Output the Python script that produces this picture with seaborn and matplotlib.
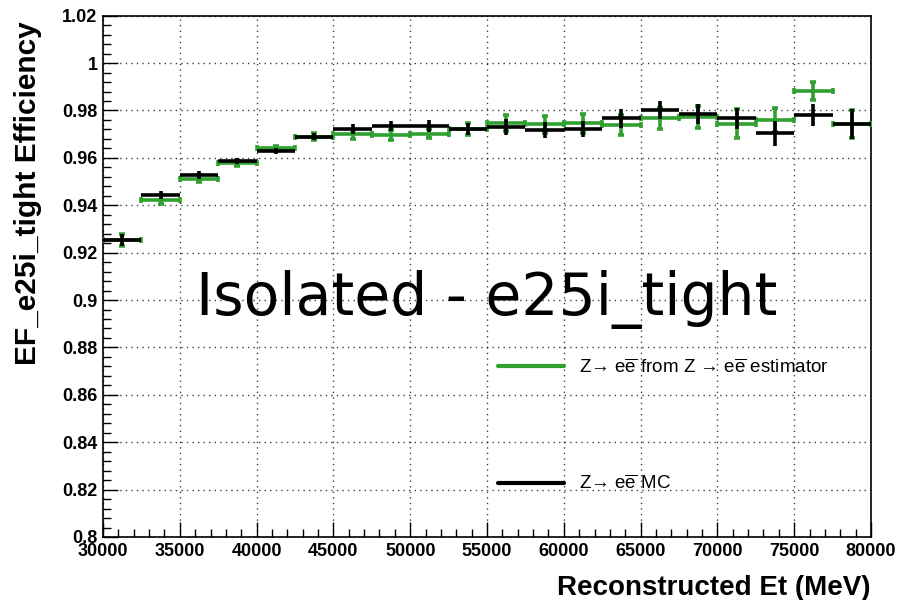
import numpy as np
import pandas as pd
import matplotlib
matplotlib.use("Agg")
import matplotlib.pyplot as plt
from matplotlib.ticker import MultipleLocator
import seaborn as sns

# bin centres (MeV), 2.5 GeV wide bins
et = [31250, 33750, 36250, 38750, 41250, 43750, 46250, 48750, 51250, 53750,
      56250, 58750, 61250, 63750, 66250, 68750, 71250, 73750, 76250, 78750]
half_width = 1250

eff_est = [0.9255, 0.9424, 0.9513, 0.9577, 0.9640, 0.9690, 0.9699, 0.9697, 0.9702, 0.9721,
           0.9748, 0.9742, 0.9746, 0.9738, 0.9767, 0.9773, 0.9745, 0.9759, 0.9883, 0.9743]
err_est = [0.0025, 0.0020, 0.0015, 0.0012, 0.0012, 0.0015, 0.0020, 0.0020, 0.0020, 0.0025,
           0.0035, 0.0035, 0.0040, 0.0042, 0.0045, 0.0045, 0.0062, 0.0050, 0.0037, 0.0060]

eff_mc = [0.9252, 0.9442, 0.9528, 0.9587, 0.9630, 0.9689, 0.9721, 0.9734, 0.9734, 0.9721,
          0.9730, 0.9718, 0.9722, 0.9767, 0.9802, 0.9785, 0.9767, 0.9703, 0.9780, 0.9743]
err_mc = [0.0025, 0.0017, 0.0015, 0.0013, 0.0013, 0.0015, 0.0020, 0.0022, 0.0025, 0.0025,
          0.0034, 0.0035, 0.0035, 0.0040, 0.0038, 0.0042, 0.0045, 0.0053, 0.0046, 0.0063]

label_est = "Z\u2192 e$\\overline{\\mathrm{e}}$ from Z \u2192 e$\\overline{\\mathrm{e}}$ estimator"
label_mc = "Z\u2192 e$\\overline{\\mathrm{e}}$ MC"

df = pd.DataFrame({"et": et, "est": eff_est, "est_err": err_est,
                   "mc": eff_mc, "mc_err": err_mc})

sns.set_style("white")
plt.rcParams["font.family"] = ["Liberation Sans", "DejaVu Sans"]
plt.rcParams["mathtext.fontset"] = "custom"
plt.rcParams["mathtext.rm"] = "Liberation Sans"
plt.rcParams["mathtext.it"] = "Liberation Sans:italic"
for key in ["text.color", "axes.labelcolor", "xtick.color", "ytick.color", "axes.edgecolor"]:
    plt.rcParams[key] = "black"

green = "#30a030"

fig = plt.figure(figsize=(9.02, 6.0), dpi=100)
ax = fig.add_axes([0.1142, 0.105, 0.8514, 0.8688])

ax.errorbar(df["et"], df["est"], xerr=half_width, yerr=df["est_err"], fmt="none",
            ecolor=green, elinewidth=2.6, capsize=2.2, capthick=2.6, zorder=3)
ax.errorbar(df["et"], df["mc"], xerr=half_width, yerr=df["mc_err"], fmt="none",
            ecolor="black", elinewidth=2.6, capsize=0, zorder=4)

# legend handles
sns.lineplot(x=[np.nan, np.nan], y=[np.nan, np.nan], ax=ax, color=green, lw=3, label=label_est)
sns.lineplot(x=[np.nan, np.nan], y=[np.nan, np.nan], ax=ax, color="black", lw=3, label=label_mc)

ax.set_xlim(30000, 80000)
ax.set_ylim(0.8, 1.02)
ax.xaxis.set_major_locator(MultipleLocator(5000))
ax.xaxis.set_minor_locator(MultipleLocator(1000))
ax.yaxis.set_minor_locator(MultipleLocator(0.004))
ax.set_yticks(np.arange(0.8, 1.0201, 0.02))
ax.set_yticklabels(["0.8", "0.82", "0.84", "0.86", "0.88", "0.9", "0.92",
                    "0.94", "0.96", "0.98", "1", "1.02"])

ax.grid(True, which="major", color="black", linestyle=(0, (1, 3)), linewidth=1.0, alpha=0.75)
ax.tick_params(axis="both", which="major", direction="in", length=11, width=1,
               labelsize=13, pad=4, color="black")
ax.tick_params(axis="both", which="minor", direction="in", length=6, width=1, color="black")
ax.tick_params(axis="both", bottom=True, left=True, which="both")
for lbl in ax.get_xticklabels() + ax.get_yticklabels():
    lbl.set_fontweight("bold")
for sp in ax.spines.values():
    sp.set_color("black")
    sp.set_linewidth(1.2)

ax.set_xlabel("Reconstructed Et (MeV)", fontsize=20, fontweight="bold", loc="right")
ax.xaxis.set_label_coords(1.0, -0.072)
ax.set_ylabel("EF_e25i_tight Efficiency", fontsize=21.5, fontweight="bold", loc="top")
ax.yaxis.set_label_coords(-0.08, 0.99)

ax.text(0.5, 0.455, "Isolated - e25i_tight", transform=ax.transAxes, fontsize=42,
        family="DejaVu Sans", color="black", ha="center", va="center")

ax.legend(loc="upper left", bbox_to_anchor=(0.505, 0.357), frameon=False, fontsize=13.5,
          handlelength=3.5, handletextpad=0.8, labelspacing=5.2, borderaxespad=0)

plt.savefig("out.png", dpi=100)
